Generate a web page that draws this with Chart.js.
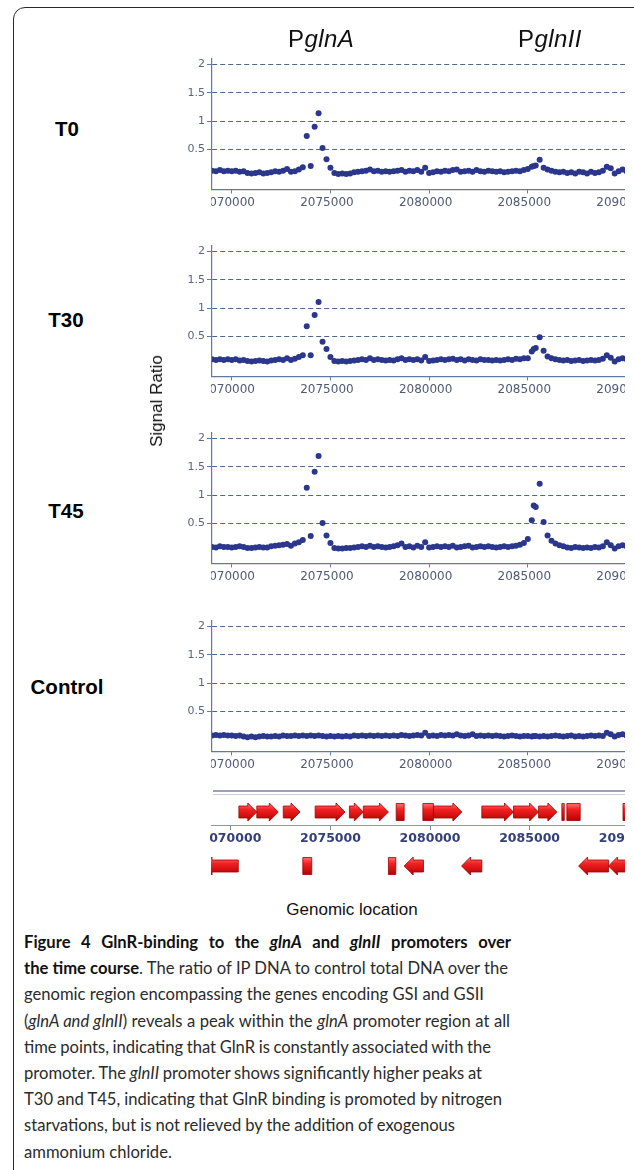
<!DOCTYPE html>
<html>
<head>
<meta charset="utf-8">
<script src="https://cdn.jsdelivr.net/npm/chart.js@4.4.0/dist/chart.umd.min.js"></script>
<style>
  html, body { margin: 0; padding: 0; background: #fff; }
  body { width: 634px; height: 1170px; overflow: hidden; position: relative; font-family: 'Liberation Sans', Arial, sans-serif; }
  #frame { position: absolute; left: 13px; top: 7px; width: 700px; height: 1220px; border: 1.5px solid #2a2a2a; border-top-left-radius: 12px; box-sizing: border-box; }
  #clip { position: absolute; left: 0; top: 0; width: 625px; height: 900px; overflow: hidden; }
  #clip canvas { position: absolute; }
  .tl { position: absolute; font-weight: bold; font-size: 20.5px; color: #000; transform: translate(-50%, -50%); white-space: nowrap; }
  .prom { position: absolute; font-size: 24px; letter-spacing: 0.4px; color: #111; white-space: nowrap; }
  .narrow { position: absolute; font-family: 'Liberation Sans Narrow', 'Liberation Sans', Arial, sans-serif; font-size: 17px; color: #111; white-space: nowrap; }
  #ylab { left: 157px; top: 401px; transform: translate(-50%, -50%) rotate(-90deg); }
  #xlab { left: 352px; top: 910px; transform: translate(-50%, -50%); }
  #track { position: absolute; left: 213px; top: 790px; width: 420px; height: 2px; border-top: 2px solid #9aa3b5; border-bottom: 1px solid #c9ced8; }
  #cap { position: absolute; left: 24px; top: 929px; font-family: Lato, 'Open Sans', sans-serif; font-size: 16.6px; line-height: 26.2px; color: #2b2b2b; }
  #cap div { white-space: nowrap; width: max-content; }
  #cap b { color: #111; }
</style>
</head>
<body>
<div id="frame"></div>
<div id="clip">
  <canvas id="p0"></canvas>
  <canvas id="p1"></canvas>
  <canvas id="p2"></canvas>
  <canvas id="p3"></canvas>
  <canvas id="genes"></canvas>
  <div id="track"></div>
</div>

<div class="prom" style="left:288px; top:25px;">P<i>glnA</i></div>
<div class="prom" style="left:518px; top:25px;">P<i>glnII</i></div>

<div class="tl" style="left:67px; top:129px;">T0</div>
<div class="tl" style="left:66px; top:320px;">T30</div>
<div class="tl" style="left:66px; top:511px;">T45</div>
<div class="tl" style="left:67px; top:687px;">Control</div>

<div class="narrow" id="ylab">Signal Ratio</div>
<div class="narrow" id="xlab">Genomic location</div>

<div id="cap">
  <div><b>Figure 4 GlnR-binding to the <i>glnA</i> and <i>glnII</i> promoters over</b></div>
  <div><b>the time course</b>. The ratio of IP DNA to control total DNA over the</div>
  <div>genomic region encompassing the genes encoding GSI and GSII</div>
  <div>(<i>glnA and glnII</i>) reveals a peak within the <i>glnA</i> promoter region at all</div>
  <div>time points, indicating that GlnR is constantly associated with the</div>
  <div>promoter. The <i>glnII</i> promoter shows significantly higher peaks at</div>
  <div>T30 and T45, indicating that GlnR binding is promoted by nitrogen</div>
  <div>starvations, but is not relieved by the addition of exogenous</div>
  <div>ammonium chloride.</div>
</div>

<script>
// probe positions (bp), one row per kb
const positions = [
  2069000, 2069200, 2069400, 2069600, 2069800,
  2070000, 2070200, 2070400, 2070600, 2070800,
  2071000, 2071200, 2071400, 2071600, 2071800,
  2072000, 2072200, 2072400, 2072600, 2072800,
  2073000, 2073200, 2073400, 2073600, 2073800,
  2074000, 2074200, 2074400, 2074600, 2074800,
  2075000, 2075200, 2075400, 2075600, 2075800,
  2076000, 2076200, 2076400, 2076600, 2076800,
  2077000, 2077200, 2077400, 2077600, 2077800,
  2078000, 2078200, 2078400, 2078600, 2078800,
  2079000, 2079200, 2079400, 2079600, 2079800,
  2080000, 2080200, 2080400, 2080600, 2080800,
  2081000, 2081200, 2081400, 2081600, 2081800,
  2082000, 2082200, 2082400, 2082600, 2082800,
  2083000, 2083200, 2083400, 2083600, 2083800,
  2084000, 2084200, 2084400, 2084600, 2084800,
  2085000, 2085200, 2085300, 2085400, 2085600, 2085800,
  2086000, 2086200, 2086400, 2086600, 2086800,
  2087000, 2087200, 2087400, 2087600, 2087800,
  2088000, 2088200, 2088400, 2088600, 2088800,
  2089000, 2089200, 2089400, 2089600, 2089800,
  2090000, 2090200, 2090400
];

// signal ratio, T0
const ratioT0 = [
  0.13, 0.12, 0.14, 0.12, 0.13,
  0.12, 0.13, 0.11, 0.12, 0.09,
  0.08, 0.09, 0.10, 0.08, 0.09,
  0.10, 0.12, 0.11, 0.13, 0.16,
  0.11, 0.12, 0.15, 0.19, 0.74,
  0.21, 0.90, 1.14, 0.53, 0.33,
  0.18, 0.09, 0.07, 0.08, 0.07,
  0.08, 0.10, 0.11, 0.12, 0.13,
  0.15, 0.12, 0.13, 0.11, 0.12,
  0.11, 0.12, 0.13, 0.14, 0.11,
  0.13, 0.12, 0.14, 0.11, 0.18,
  0.09, 0.10, 0.12, 0.11, 0.13,
  0.12, 0.14, 0.15, 0.11, 0.12,
  0.13, 0.11, 0.14, 0.12, 0.11,
  0.13, 0.12, 0.11, 0.12, 0.10,
  0.11, 0.12, 0.13, 0.12, 0.14,
  0.16, 0.20, 0.21, 0.22, 0.32, 0.18,
  0.15, 0.13, 0.11, 0.10, 0.11,
  0.09, 0.10, 0.08, 0.11, 0.10,
  0.08, 0.11, 0.09, 0.10, 0.13,
  0.20, 0.17, 0.08, 0.12, 0.15,
  0.12, 0.13, 0.11
];

// T30
const ratioT30 = [
  0.10, 0.09, 0.10, 0.09, 0.10,
  0.09, 0.10, 0.08, 0.09, 0.07,
  0.06, 0.07, 0.08, 0.07, 0.06,
  0.08, 0.09, 0.10, 0.09, 0.12,
  0.09, 0.11, 0.14, 0.17, 0.68,
  0.17, 0.88, 1.11, 0.41, 0.28,
  0.14, 0.07, 0.06, 0.07, 0.06,
  0.07, 0.08, 0.09, 0.10, 0.09,
  0.12, 0.09, 0.10, 0.09, 0.08,
  0.09, 0.08, 0.10, 0.12, 0.09,
  0.10, 0.09, 0.10, 0.08, 0.14,
  0.07, 0.08, 0.09, 0.10, 0.09,
  0.10, 0.11, 0.09, 0.10, 0.08,
  0.10, 0.09, 0.08, 0.10, 0.09,
  0.09, 0.08, 0.09, 0.08, 0.09,
  0.10, 0.09, 0.11, 0.10, 0.12,
  0.12, 0.24, 0.28, 0.30, 0.49, 0.25,
  0.15, 0.12, 0.10, 0.09, 0.08,
  0.09, 0.07, 0.08, 0.09, 0.07,
  0.08, 0.09, 0.08, 0.09, 0.11,
  0.17, 0.13, 0.06, 0.10, 0.12,
  0.10, 0.11, 0.09
];

// T45
const ratioT45 = [
  0.09, 0.08, 0.10, 0.09, 0.09,
  0.08, 0.09, 0.10, 0.09, 0.07,
  0.07, 0.08, 0.09, 0.08, 0.08,
  0.10, 0.11, 0.12, 0.13, 0.14,
  0.11, 0.15, 0.17, 0.21, 1.13,
  0.28, 1.41, 1.69, 0.51, 0.29,
  0.16, 0.07, 0.06, 0.06, 0.07,
  0.07, 0.08, 0.09, 0.10, 0.09,
  0.11, 0.09, 0.10, 0.09, 0.08,
  0.09, 0.10, 0.12, 0.15, 0.09,
  0.10, 0.08, 0.11, 0.09, 0.17,
  0.08, 0.09, 0.10, 0.09, 0.10,
  0.09, 0.11, 0.08, 0.09, 0.10,
  0.11, 0.08, 0.09, 0.10, 0.09,
  0.10, 0.09, 0.08, 0.09, 0.10,
  0.09, 0.10, 0.11, 0.13, 0.16,
  0.23, 0.56, 0.82, 0.79, 1.20, 0.53,
  0.29, 0.20, 0.15, 0.12, 0.10,
  0.08, 0.07, 0.09, 0.08, 0.07,
  0.08, 0.07, 0.09, 0.08, 0.10,
  0.17, 0.12, 0.06, 0.10, 0.12,
  0.10, 0.09, 0.11
];

// Control
const ratioCtrl = [
  0.08, 0.09, 0.08, 0.09, 0.08,
  0.08, 0.07, 0.08, 0.06, 0.05,
  0.06, 0.05, 0.06, 0.07, 0.06,
  0.06, 0.07, 0.06, 0.08, 0.07,
  0.07, 0.08, 0.07, 0.08, 0.07,
  0.08, 0.07, 0.08, 0.07, 0.06,
  0.07, 0.06, 0.07, 0.06, 0.07,
  0.06, 0.08, 0.07, 0.08, 0.07,
  0.08, 0.07, 0.08, 0.07, 0.08,
  0.07, 0.08, 0.07, 0.09, 0.08,
  0.07, 0.08, 0.09, 0.08, 0.13,
  0.07, 0.08, 0.07, 0.09, 0.08,
  0.09, 0.08, 0.10, 0.08, 0.07,
  0.08, 0.10, 0.07, 0.08, 0.07,
  0.08, 0.07, 0.08, 0.07, 0.06,
  0.07, 0.08, 0.07, 0.06, 0.07,
  0.07, 0.06, 0.07, 0.07, 0.06, 0.07,
  0.06, 0.07, 0.08, 0.07, 0.06,
  0.07, 0.08, 0.06, 0.07, 0.06,
  0.07, 0.08, 0.07, 0.08, 0.07,
  0.13, 0.10, 0.06, 0.09, 0.10,
  0.08, 0.09, 0.08
];

// tick labels
const xTicks = [2070000, 2075000, 2080000, 2085000, 2090000];
const yTicks = [0.5, 1, 1.5, 2];

// genes [start, end] in bp
const fwdArrows = [
  [2070400, 2071300], [2071300, 2072380], [2072630, 2073470], [2074230, 2075730],
  [2075950, 2076650], [2076650, 2077910], [2080170, 2081600], [2082600, 2084190],
  [2084190, 2085450], [2085450, 2086370]
];
const fwdBoxes = [
  [2078300, 2078700], [2079640, 2080170], [2086620, 2086740], [2086870, 2087540],
  [2089690, 2090100]
];
const revArrows = [
  [2068600, 2070370], [2078700, 2079670], [2081580, 2082600], [2087460, 2088960],
  [2088960, 2090400]
];
const revBoxes = [
  [2073610, 2074060], [2077910, 2078280]
];

const DOT = '#2b378c';
const AXIS = '#5b7ca0';
const GRID = '#4f6785';

// 왼쪽 영역의 x 라벨 잘라내기
const cutLeft = {
  id: 'cutLeft',
  afterDraw(chart, args, opts) {
    const a = chart.chartArea;
    const y0 = opts.all ? 0 : a.bottom + 1;
    chart.ctx.clearRect(0, y0, a.left - 1, chart.height - y0);
  }
};

function makePanel(id, values, top) {
  const cv = document.getElementById(id);
  cv.width = 519;
  cv.height = 164;
  cv.style.left = '150px';
  cv.style.top = (top - 6) + 'px';

  new Chart(cv, {
    type: 'scatter',
    data: {
      datasets: [{
        data: positions.map((p, i) => ({ x: p, y: values[i] })),
        pointRadius: 3,
        pointBackgroundColor: DOT,
        pointBorderWidth: 0,
        pointHoverRadius: 3
      }]
    },
    options: {
      responsive: false,
      animation: false,
      devicePixelRatio: 1,
      events: [],
      layout: { padding: { top: 6, left: 0, right: 0, bottom: 0 } },
      plugins: { legend: { display: false }, tooltip: { enabled: false }, cutLeft: { all: false } },
      scales: {
        x: {
          type: 'linear',
          min: 2069000,
          max: 2092000,
          afterBuildTicks: (s) => { s.ticks = xTicks.map(v => ({ value: v })); },
          afterFit: (s) => { s.height = 24.6; },
          grid: { drawOnChartArea: false, drawTicks: true, tickLength: 4, tickColor: AXIS },
          border: { display: true, color: AXIS, width: 1.2 },
          ticks: {
            autoSkip: false,
            maxRotation: 0,
            padding: 2,
            labelOffset: -3.5,
            color: '#4f5a74',
            font: { family: 'DejaVu Sans', size: 12 },
            callback: (v) => String(v)
          }
        },
        y: {
          min: -0.2,
          max: 2.1,
          afterBuildTicks: (s) => { s.ticks = yTicks.map(v => ({ value: v })); },
          afterFit: (s) => { s.width = 62; },
          grid: {
            color: GRID,
            lineWidth: 1,
            drawTicks: true,
            tickLength: 5,
            tickColor: AXIS,
            tickBorderDash: []
          },
          border: { display: true, color: AXIS, width: 1.2, dash: [5, 3] },
          ticks: {
            padding: 2,
            color: '#5b6680',
            font: { family: 'DejaVu Sans', size: 11 },
            callback: (v) => String(v)
          }
        }
      }
    },
    plugins: [cutLeft]
  });
}

makePanel('p0', ratioT0, 56);
makePanel('p1', ratioT30, 243);
makePanel('p2', ratioT45, 430);
makePanel('p3', ratioCtrl, 617.5);

// gene arrows
function drawGene(ctx, x0, x1, cy, kind, strand) {
  const hh = 9, bh = 6;
  const g = ctx.createLinearGradient(0, cy - hh, 0, cy + hh);
  g.addColorStop(0, '#ff7a7a');
  g.addColorStop(0.35, '#f42222');
  g.addColorStop(1, '#b30000');
  ctx.beginPath();
  if (kind === 'box') {
    ctx.rect(x0, cy - 8.5, x1 - x0, 17);
  } else {
    const head = Math.min(9, x1 - x0);
    if (strand === 'fwd') {
      const hx = x1 - head;
      ctx.moveTo(x0, cy - bh);
      ctx.lineTo(hx, cy - bh);
      ctx.lineTo(hx, cy - hh);
      ctx.lineTo(x1, cy);
      ctx.lineTo(hx, cy + hh);
      ctx.lineTo(hx, cy + bh);
      ctx.lineTo(x0, cy + bh);
    } else {
      const hx = x0 + head;
      ctx.moveTo(x1, cy - bh);
      ctx.lineTo(hx, cy - bh);
      ctx.lineTo(hx, cy - hh);
      ctx.lineTo(x0, cy);
      ctx.lineTo(hx, cy + hh);
      ctx.lineTo(hx, cy + bh);
      ctx.lineTo(x1, cy + bh);
    }
    ctx.closePath();
  }
  ctx.fillStyle = g;
  ctx.fill();
  ctx.strokeStyle = '#a00000';
  ctx.lineWidth = 0.8;
  ctx.stroke();
}

const geneShapes = {
  id: 'geneShapes',
  afterDatasetsDraw(chart) {
    const ctx = chart.ctx;
    const a = chart.chartArea;
    ctx.save();
    ctx.beginPath();
    ctx.rect(a.left, a.top, a.right - a.left, a.bottom - a.top);
    ctx.clip();
    chart.data.datasets.forEach((ds, di) => {
      chart.getDatasetMeta(di).data.forEach((el) => {
        const p = el.getProps(['x', 'base', 'y'], true);
        drawGene(ctx, Math.min(p.x, p.base), Math.max(p.x, p.base), p.y, ds.kind, ds.strand);
      });
    });
    ctx.restore();
  }
};

const gc = document.getElementById('genes');
gc.width = 519;
gc.height = 108;
gc.style.left = '150px';
gc.style.top = '785px';

const geneSet = (list, row, kind) => ({
  kind: kind,
  strand: row,
  data: list.map(g => ({ x: g, y: row })),
  backgroundColor: 'rgba(0,0,0,0)',
  borderWidth: 0,
  grouped: false
});

new Chart(gc, {
  type: 'bar',
  data: {
    labels: ['fwd', 'rev'],
    datasets: [
      geneSet(fwdArrows, 'fwd', 'arrow'),
      geneSet(fwdBoxes, 'fwd', 'box'),
      geneSet(revArrows, 'rev', 'arrow'),
      geneSet(revBoxes, 'rev', 'box')
    ]
  },
  options: {
    indexAxis: 'y',
    responsive: false,
    animation: false,
    devicePixelRatio: 1,
    events: [],
    layout: { padding: { left: 61, top: 0, right: 0, bottom: 0 } },
    plugins: { legend: { display: false }, tooltip: { enabled: false }, cutLeft: { all: true } },
    scales: {
      y: { type: 'category', display: false, offset: true },
      x: {
        type: 'linear',
        min: 2069000,
        max: 2092000,
        position: { y: 0.259 },
        afterBuildTicks: (s) => { s.ticks = xTicks.map(v => ({ value: v })); },
        grid: { drawOnChartArea: false, drawTicks: true, tickLength: 4, tickColor: '#7d8aa3' },
        border: { display: true, color: '#8b97ad', width: 1 },
        ticks: {
          autoSkip: false,
          maxRotation: 0,
          padding: 1,
          color: '#33407a',
          font: { family: 'DejaVu Sans', size: 12.5, weight: 'bold' },
          callback: (v) => String(v)
        }
      }
    }
  },
  plugins: [geneShapes, cutLeft]
});

// caption lines: right edges, spread by word spacing
const capRight = [511, 508, 484, 510, 491, 482, 502, 455, null];
document.querySelectorAll('#cap div').forEach((d, i) => {
  if (capRight[i] === null) return;
  const w = d.getBoundingClientRect().width;
  const gaps = (d.textContent.match(/ /g) || []).length;
  if (gaps) d.style.wordSpacing = ((capRight[i] - 24 - w) / gaps).toFixed(2) + 'px';
});
</script>
</body>
</html>
